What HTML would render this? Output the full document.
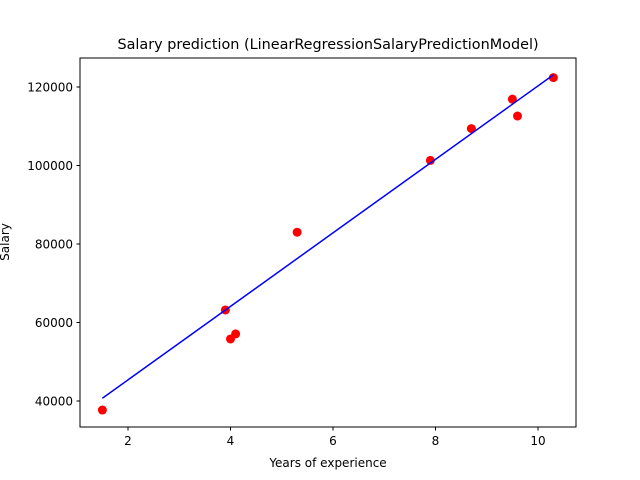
<!DOCTYPE html>
<html><head><meta charset="utf-8"><style>body{margin:0;background:#fff}svg{display:block}text{font-family:"DejaVu Sans","Liberation Sans",sans-serif;fill:#000}</style></head>
<body>
<svg id="chart" width="640" height="480">
<rect x="0" y="0" width="640" height="480" fill="#fff"/>
<text x="328" y="49" font-size="14.4" text-anchor="middle">Salary prediction (LinearRegressionSalaryPredictionModel)</text>
<g id="plot"></g>
<rect x="80" y="58" width="496" height="369" fill="none" stroke="#000" stroke-width="1"/>
<text x="328" y="467" font-size="12" text-anchor="middle">Years of experience</text>
<text transform="translate(9,242) rotate(-90)" font-size="12" text-anchor="middle">Salary</text>
</svg>
<script>
const years = [1.5, 3.9, 4.0, 4.1, 5.3, 7.9, 8.7, 9.5, 9.6, 10.3];
const salaries = [37700, 63200, 55800, 57100, 83000, 101300, 109400, 116900, 112600, 122400];
const lineX = [1.5, 10.3];
const lineY = [40700, 123100];
const xTicks = [2, 4, 6, 8, 10];
const yTicks = [40000, 60000, 80000, 100000, 120000];

const NS = 'http://www.w3.org/2000/svg';
const g = document.getElementById('plot');
function sx(v){ return 25.5 + v * 51.25; }
function sy(v){ return 87 + (120000 - v) * (78.5 / 20000); }
function mk(tag, attrs){ const e = document.createElementNS(NS, tag); for (const k in attrs) e.setAttribute(k, attrs[k]); g.appendChild(e); return e; }

xTicks.forEach(t => {
  const l = mk('line', {x1: sx(t), x2: sx(t), y1: 427, y2: 430.5, stroke: '#000'});
  
  
  const tx = mk('text', {x: sx(t), y: 445, 'font-size': 12, 'text-anchor': 'middle'});
  tx.textContent = t;
  
  
});
yTicks.forEach(t => {
  const l = mk('line', {x1: 76.5, x2: 80, y1: sy(t), y2: sy(t), stroke: '#000'});
  
  
  const tx = mk('text', {x: 73, y: sy(t) + 4.5, 'font-size': 12, 'text-anchor': 'end'});
  tx.textContent = t;
  
  
});
years.forEach((x, i) => {
  const c = mk('circle', {cx: sx(x), cy: sy(salaries[i]), r: 4.5, fill: '#ff0000'});
  
  
});
const ln = mk('polyline', {points: lineX.map((x, i) => sx(x) + ',' + sy(lineY[i])).join(' '), fill: 'none', stroke: '#0000ff', 'stroke-width': 1.5});


</script>
</body></html>
